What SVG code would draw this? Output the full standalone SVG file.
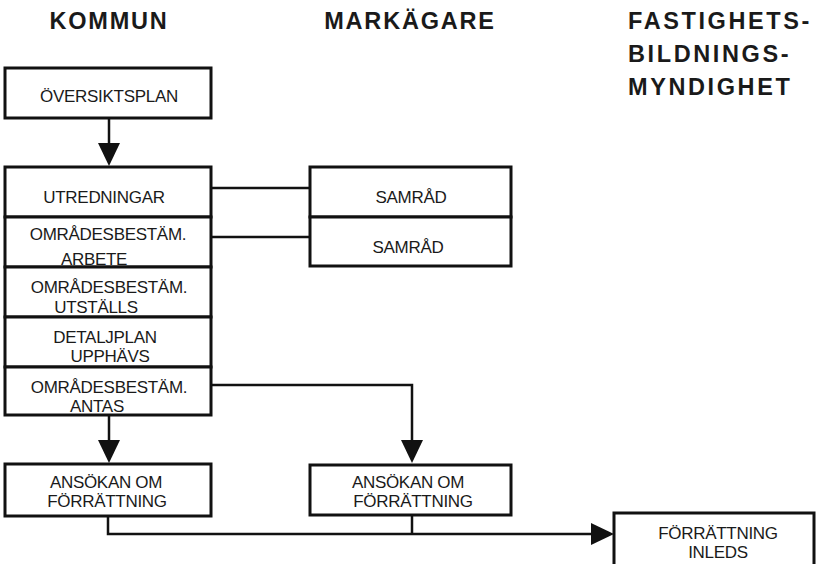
<svg xmlns="http://www.w3.org/2000/svg" width="816" height="564" viewBox="0 0 816 564">
<style>
.bg{fill:#ffffff}
.box{fill:#ffffff;stroke:#111;stroke-width:3}
.hd{font-family:"Liberation Sans",Arial,sans-serif;font-weight:bold;font-size:23.5px;letter-spacing:1.8px;fill:#1a1a1a}
.hw{letter-spacing:2.6px}
.t{font-family:"Liberation Sans",Arial,sans-serif;font-size:17px;letter-spacing:-0.3px;fill:#1a1a1a;text-anchor:middle}
.ln{fill:none;stroke:#111;stroke-width:2.5}
</style>
<defs>
<marker id="arr" viewBox="0 0 23 22" refX="17" refY="11" markerWidth="23" markerHeight="22" markerUnits="userSpaceOnUse" orient="auto">
<path d="M0,0 L23,11 L0,22 Z" fill="#111"/>
</marker>
</defs>
<rect class="bg" x="0" y="0" width="816" height="564"/>
<g id="headers">
<text class="hd" x="109" y="29" text-anchor="middle">KOMMUN</text>
<text class="hd" x="410" y="29" text-anchor="middle">MARKÄGARE</text>
<text class="hd hw" x="628" y="29">FASTIGHETS-</text>
<text class="hd hw" x="628" y="62">BILDNINGS-</text>
<text class="hd hw" x="628" y="95">MYNDIGHET</text>
</g>
<g id="connectors">
<path class="ln" d="M109,118 V160" marker-end="url(#arr)"/>
<path class="ln" d="M211,188 H310"/>
<path class="ln" d="M211,237 H310"/>
<path class="ln" d="M109,415 V457" marker-end="url(#arr)"/>
<path class="ln" d="M211,385 H412 V457" marker-end="url(#arr)"/>
<path class="ln" d="M412,515 V534"/>
<path class="ln" d="M108,516 V534 H608" marker-end="url(#arr)"/>
</g>
<g id="oversiktsplan">
<rect class="box" x="5" y="68" width="206" height="50"/>
<text class="t" x="109" y="102">ÖVERSIKTSPLAN</text>
</g>
<g id="utredningar">
<rect class="box" x="5" y="167" width="206" height="50"/>
<text class="t" x="104" y="203">UTREDNINGAR</text>
</g>
<g id="omr-arbete">
<rect class="box" x="5" y="217" width="206" height="50"/>
<text class="t" x="108" y="240">OMRÅDESBESTÄM.</text>
<text class="t" x="94" y="265">ARBETE</text>
</g>
<g id="omr-utstalls">
<rect class="box" x="5" y="267" width="206" height="50"/>
<text class="t" x="109" y="293">OMRÅDESBESTÄM.</text>
<text class="t" x="96" y="313">UTSTÄLLS</text>
</g>
<g id="detaljplan">
<rect class="box" x="5" y="317" width="206" height="50"/>
<text class="t" x="105" y="343">DETALJPLAN</text>
<text class="t" x="110" y="362">UPPHÄVS</text>
</g>
<g id="omr-antas">
<rect class="box" x="5" y="367" width="206" height="48"/>
<text class="t" x="109" y="393">OMRÅDESBESTÄM.</text>
<text class="t" x="97" y="412">ANTAS</text>
</g>
<g id="samrad1">
<rect class="box" x="310" y="167" width="201" height="50"/>
<text class="t" x="411" y="203">SAMRÅD</text>
</g>
<g id="samrad2">
<rect class="box" x="310" y="217" width="201" height="49"/>
<text class="t" x="408" y="253">SAMRÅD</text>
</g>
<g id="ansokan1">
<rect class="box" x="5" y="464" width="206" height="52"/>
<text class="t" x="106" y="488">ANSÖKAN OM</text>
<text class="t" x="107" y="507">FÖRRÄTTNING</text>
</g>
<g id="ansokan2">
<rect class="box" x="310" y="465" width="201" height="50"/>
<text class="t" x="408" y="488">ANSÖKAN OM</text>
<text class="t" x="413" y="507">FÖRRÄTTNING</text>
</g>
<g id="forrattning-inleds">
<rect class="box" x="614" y="513" width="200" height="60"/>
<text class="t" x="718" y="539">FÖRRÄTTNING</text>
<text class="t" x="718" y="558">INLEDS</text>
</g>
</svg>
